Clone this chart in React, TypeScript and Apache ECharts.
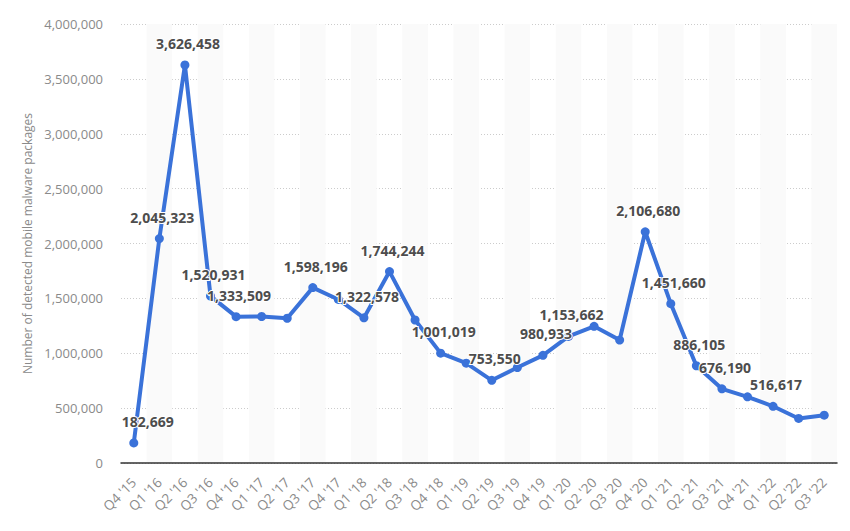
import React, { useEffect, useRef } from "react";
import * as echarts from "echarts";

const categories = [
  "Q4 '15", "Q1 '16", "Q2 '16", "Q3 '16", "Q4 '16", "Q1 '17", "Q2 '17", "Q3 '17",
  "Q4 '17", "Q1 '18", "Q2 '18", "Q3 '18", "Q4 '18", "Q1 '19", "Q2 '19", "Q3 '19",
  "Q4 '19", "Q1 '20", "Q2 '20", "Q3 '20", "Q4 '20", "Q1 '21", "Q2 '21", "Q3 '21",
  "Q4 '21", "Q1 '22", "Q2 '22", "Q3 '22",
];

const values = [
  182669, 2045323, 3626458, 1520931, 1333509, 1335000, 1319000, 1598196,
  1490000, 1322578, 1744244, 1303000, 1001019, 910000, 753550, 870000,
  980933, 1153662, 1245000, 1120000, 2106680, 1451660, 886105, 676190,
  603000, 516617, 406000, 436000,
];

const labeledIndices = [0, 1, 2, 3, 4, 7, 9, 10, 12, 14, 16, 17, 20, 21, 22, 23, 25];

const yTicks = [0, 500000, 1000000, 1500000, 2000000, 2500000, 3000000, 3500000, 4000000];

const FONT = "'Open Sans', sans-serif";
const fmt = (v: number) => v.toLocaleString("en-US");

export default function App() {
  const ref = useRef<HTMLDivElement>(null);
  useEffect(() => {
    if (!ref.current) return;
    const chart = echarts.init(ref.current, null, { renderer: "svg" });
    const data = values.map((v, i) => {
      const show = labeledIndices.includes(i);
      return {
        value: v,
        label: {
          show,
          offset: i === 0 ? [14, 0] : [3, 0],
        },
      };
    });
    chart.setOption({
      animation: false,
      textStyle: { fontFamily: FONT },
      grid: { left: 113, right: 5, top: 16, bottom: 60, containLabel: false },
      xAxis: {
        type: "category",
        data: categories,
        boundaryGap: true,
        axisLine: { show: true, lineStyle: { color: "#333333", width: 1.5 } },
        axisTick: { show: false },
        axisLabel: {
          rotate: 45,
          interval: 0,
          margin: 17,
          color: "#8a8a8a",
          fontSize: 13.5,
          fontFamily: FONT,
        },
        splitLine: { show: false },
        splitArea: {
          show: true,
          interval: 0,
          areaStyle: { color: ["rgba(255,255,255,0)", "#fafafa"] },
        },
      },
      yAxis: {
        type: "value",
        min: yTicks[0],
        max: yTicks[yTicks.length - 1],
        interval: 500000,
        name: "Number of detected mobile malware packages",
        nameLocation: "middle",
        nameGap: 88,
        nameTextStyle: { color: "#8a8a8a", fontSize: 12, fontFamily: FONT },
        axisLine: { show: false },
        axisTick: { show: false },
        axisLabel: {
          color: "#8a8a8a",
          fontSize: 13,
          margin: 18,
          fontFamily: FONT,
          formatter: (v: number) => fmt(v),
        },
        splitLine: { show: true, lineStyle: { color: "#cccccc", type: [1, 2], width: 1 } },
      },
      series: [
        {
          type: "line",
          data,
          symbol: "circle",
          symbolSize: 9,
          lineStyle: { color: "#3a72d9", width: 4 },
          itemStyle: { color: "#3a72d9" },
          label: {
            position: "top",
            distance: 10,
            color: "#4d4d4d",
            fontSize: 14,
            fontWeight: "bold",
            fontFamily: FONT,
            textBorderColor: "#ffffff",
            textBorderWidth: 2,
            formatter: (p: any) => fmt(p.value),
          },
        },
      ],
    });
    return () => chart.dispose();
  }, []);
  return <div ref={ref} style={{ width: 834, height: 515 }} />;
}
